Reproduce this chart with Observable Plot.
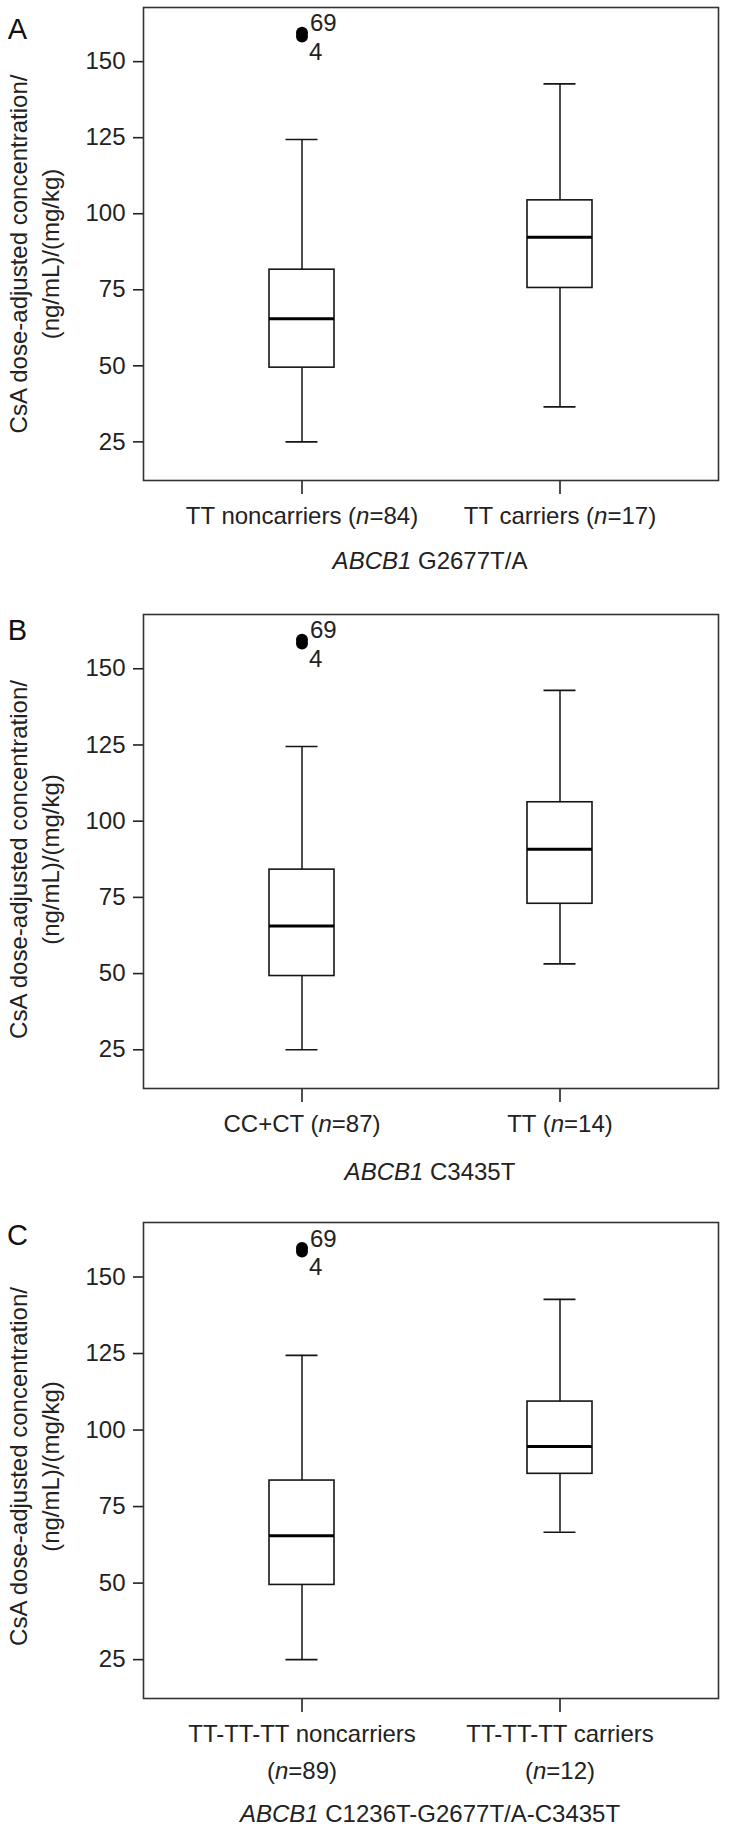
<!DOCTYPE html>
<html><head><meta charset="utf-8">
<script src="https://cdn.jsdelivr.net/npm/d3@7"></script>
<script src="https://cdn.jsdelivr.net/npm/@observablehq/plot@0.6"></script>
<style>
body{margin:0;background:#fff;}
#root{position:relative;width:729px;height:1831px;font-family:"Liberation Sans",Arial,sans-serif;color:#222;overflow:hidden;}
.panel{position:absolute;left:0;width:729px;}
.title{position:absolute;font-size:24px;white-space:nowrap;transform:translate(-50%,-50%);line-height:1;color:#222;}
</style></head><body><div id="root"></div>
<script>
// Categories
const groupsA = ["TT noncarriers (n=84)", "TT carriers (n=17)"];
const groupsB = ["CC+CT (n=87)", "TT (n=14)"];
const groupsC = ["TT-TT-TT noncarriers\n(n=89)", "TT-TT-TT carriers\n(n=12)"];
// Box statistics per panel: lower whisker, Q1, median, Q3, upper whisker
const lowA = [25.0, 36.5], q1A = [49.4, 75.6], medA = [65.5, 92.3], q3A = [81.6, 104.4], highA = [124.4, 142.7];
const lowB = [25.0, 53.2], q1B = [49.2, 72.9], medB = [65.6, 90.8], q3B = [84.1, 106.2], highB = [124.5, 142.9];
const lowC = [25.0, 66.6], q1C = [49.4, 85.7], medC = [65.5, 94.6], q3C = [83.5, 109.3], highC = [124.4, 142.7];
// Outliers (case ids) in first group
const outlierIds = ["69", "4"];
const outlierValues = [159.5, 158.3];
// Ticks
const yTicks = [25, 50, 75, 100, 125, 150];
const yLabel = "CsA dose-adjusted concentration/\n(ng/mL)/(mg/kg)";
const FONT = '"Liberation Sans", Arial, sans-serif';

function italicN(svg) {
  svg.querySelectorAll('g[aria-label="x-axis tick label"] text').forEach(t => {
    const nodes = t.querySelectorAll("tspan").length ? Array.from(t.querySelectorAll("tspan")) : [t];
    nodes.forEach(el => {
      const s = el.textContent;
      const i = s.indexOf("(n=");
      if (i < 0) return;
      el.textContent = "";
      el.appendChild(document.createTextNode(s.slice(0, i + 1)));
      const it = document.createElementNS("http://www.w3.org/2000/svg", "tspan");
      it.setAttribute("font-style", "italic");
      it.textContent = "n";
      el.appendChild(it);
      el.appendChild(document.createTextNode(s.slice(i + 2)));
    });
  });
}

function panel(o) {
  const boxes = o.groups.map((g, i) => ({g, low: o.low[i], q1: o.q1[i], med: o.med[i], q3: o.q3[i], high: o.high[i]}));
  const outs = outlierValues.map((v, i) => ({g: o.groups[0], v, id: outlierIds[i]}));
  const ink = "#151515";
  const svg = Plot.plot({
    width: 729, height: 7 + o.frameH + o.mBottom,
    marginTop: 7, marginLeft: 143, marginRight: 11, marginBottom: o.mBottom,
    style: {fontFamily: FONT, fontSize: "24px", color: "#222", background: "#fff", overflow: "visible"},
    x: {domain: o.groups, paddingInner: 0.749, paddingOuter: 0.485},
    y: {domain: [12.3, 167.8]},
    marks: [
      Plot.axisY({ticks: yTicks, tickSize: 10, tickPadding: 8, fontSize: 24, strokeWidth: 1.6, label: null}),
      Plot.axisX({tickSize: 14, tickPadding: 3, fontSize: 24, strokeWidth: 1.6, label: null, lineHeight: 1.54}),
      Plot.ruleX(boxes, {x: "g", y1: "low", y2: "q1", stroke: ink, strokeWidth: 1.5}),
      Plot.ruleX(boxes, {x: "g", y1: "q3", y2: "high", stroke: ink, strokeWidth: 1.5}),
      Plot.tickY(boxes, {x: "g", y: "low", insetLeft: 16.5, insetRight: 16.5, stroke: ink, strokeWidth: 1.6}),
      Plot.tickY(boxes, {x: "g", y: "high", insetLeft: 16.5, insetRight: 16.5, stroke: ink, strokeWidth: 1.6}),
      Plot.barY(boxes, {x: "g", y1: "q1", y2: "q3", fill: "#fff", stroke: ink, strokeWidth: 1.6}),
      Plot.tickY(boxes, {x: "g", y: "med", stroke: "#000", strokeWidth: 3}),
      Plot.dot(outs, {x: "g", y: "v", r: 6, fill: "#000", stroke: "none"}),
      Plot.text(outs.slice(0, 1), {x: "g", y: "v", text: "id", textAnchor: "start", dx: 8, dy: -9, fontSize: 24, fill: "#222"}),
      Plot.text(outs.slice(1, 2), {x: "g", y: "v", text: "id", textAnchor: "start", dx: 7, dy: 16, fontSize: 24, fill: "#222"}),
      Plot.text([yLabel], {frameAnchor: "left", rotate: -90, dx: -111, dy: o.labelDy, fontSize: 24, lineHeight: 1.35, textAnchor: "middle", lineAnchor: "middle", fill: "#222"}),
      Plot.text([o.letter], {frameAnchor: "top-left", dx: -126, dy: o.letterDy, fontSize: 29, textAnchor: "middle", lineAnchor: "middle", fill: "#111"}),
      Plot.frame({stroke: "#333", strokeWidth: 1.6})
    ]
  });
  italicN(svg);
  const wrap = document.createElement("div");
  wrap.className = "panel";
  wrap.style.top = o.top + "px";
  wrap.appendChild(svg);
  const t = document.createElement("div");
  t.className = "title";
  t.style.left = "430px";
  t.style.top = o.titleY + "px";
  t.innerHTML = "<i>ABCB1</i> " + o.title;
  wrap.appendChild(t);
  document.getElementById("root").appendChild(wrap);
}

panel({groups: groupsA, low: lowA, q1: q1A, med: medA, q3: q3A, high: highA, letter: "A", title: "G2677T/A",
  top: 0, frameH: 473, mBottom: 80, letterDy: 22, labelDy: 10, titleY: 561});
panel({groups: groupsB, low: lowB, q1: q1B, med: medB, q3: q3B, high: highB, letter: "B", title: "C3435T",
  top: 607, frameH: 474, mBottom: 80, letterDy: 16, labelDy: 8, titleY: 565});
panel({groups: groupsC, low: lowC, q1: q1C, med: medC, q3: q3C, high: highC, letter: "C", title: "C1236T-G2677T/A-C3435T",
  top: 1215, frameH: 476, mBottom: 110, letterDy: 13, labelDy: 6, titleY: 599});
</script>
</body></html>
